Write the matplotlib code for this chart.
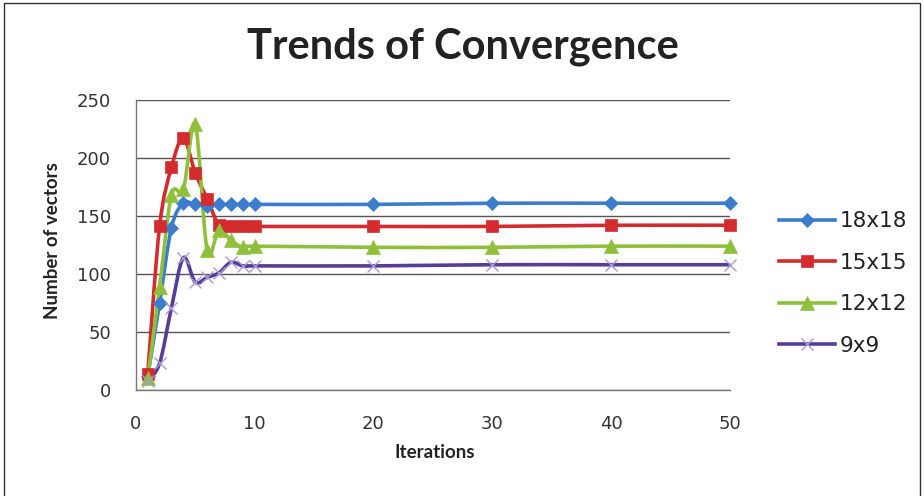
import matplotlib
matplotlib.use("Agg")
import matplotlib.pyplot as plt
import numpy as np
from matplotlib.path import Path
from matplotlib.patches import PathPatch, Rectangle
from matplotlib.lines import Line2D

# iterations and number of vectors for each block size
iterations = [1, 2, 3, 4, 5, 6, 7, 8, 9, 10, 20, 30, 40, 50]
v18 = [12, 75, 140, 161, 160, 159, 160, 160, 160, 160, 160, 161, 161, 161]
v15 = [14, 141, 192, 217, 187, 165, 142, 141, 141, 141, 141, 141, 142, 142]
v12 = [10, 89, 168, 173, 229, 121, 138, 129, 123, 124, 123, 123, 124, 124]
v9 = [8, 23, 71, 114, 93, 97, 101, 110, 107, 107, 107, 108, 108, 108]

labels = ["18x18", "15x15", "12x12", "9x9"]
series = [v18, v15, v12, v9]
colors = ["#3b7dcc", "#d42b2f", "#8fc03c", "#583c98"]
marker_colors = ["#3b7dcc", "#d42b2f", "#8fc03c", "#a89ad6"]
markers = ["D", "s", "^", "x"]
msizes = [7.5, 9, 9.5, 9]

x_ticks = [0, 10, 20, 30, 40, 50]
y_ticks = [0, 50, 100, 150, 200, 250]


def smooth_path(x, y):
    # Catmull-Rom style bezier segments through every data point
    pts = np.column_stack([x, y]).astype(float)
    n = len(pts)
    verts = [pts[0]]
    codes = [Path.MOVETO]
    for i in range(n - 1):
        p0 = pts[i - 1] if i > 0 else pts[i]
        p1, p2 = pts[i], pts[i + 1]
        p3 = pts[i + 2] if i + 2 < n else pts[i + 1]
        c1 = p1 + (p2 - p0) / 6.0
        c2 = p2 - (p3 - p1) / 6.0
        verts += [c1, c2, p2]
        codes += [Path.CURVE4] * 3
    return Path(verts, codes)


fig = plt.figure(figsize=(9.24, 4.96), dpi=100)
ax = fig.add_axes([0.147, 0.2137, 0.643, 0.5847])

ax.set_xlim(0, 50)
ax.set_ylim(0, 250)

for vals, c, mc, m, ms in zip(series, colors, marker_colors, markers, msizes):
    patch = PathPatch(smooth_path(iterations, vals), facecolor="none",
                      edgecolor=c, lw=2.6, zorder=3, clip_on=False)
    ax.add_patch(patch)
    mew = 1.0 if m == "x" else 0.5
    ax.plot(iterations, vals, linestyle="none", marker=m, markersize=ms,
            color=mc, markeredgecolor=mc, markeredgewidth=mew, zorder=4,
            clip_on=False)

ax.set_xticks(x_ticks)
ax.set_yticks(y_ticks)
ax.tick_params(length=0, labelsize=13, colors="#333333", pad=18)
ax.yaxis.grid(True, color="#555555", lw=1.0)
ax.set_axisbelow(True)
for side in ["top", "right"]:
    ax.spines[side].set_visible(False)
for side in ["left", "bottom"]:
    ax.spines[side].set_color("#777777")
    ax.spines[side].set_linewidth(1.0)

fig.text(0.4708, 0.0867, "Iterations", ha="center", va="center",
         fontsize=13.5, fontweight="bold", family="Lato", color="#222222")
fig.text(0.0563, 0.516, "Number of vectors", ha="center", va="center",
         rotation=90, fontsize=13.5, fontweight="bold", family="Lato",
         color="#222222")

fig.text(0.501, 0.905, "Trends of Convergence", ha="center", va="center",
         fontsize=30, fontweight="bold", family="Lato", color="#222222")

handles = [Line2D([0], [0], color=c, lw=2.6, marker=m, markersize=ms,
                  markerfacecolor=mc, markeredgecolor=mc,
                  markeredgewidth=1.0 if m == "x" else 0.5)
           for c, mc, m, ms in zip(colors, marker_colors, markers, msizes)]
fig.legend(handles, labels, loc="center left", bbox_to_anchor=(0.843, 0.428),
           frameon=False, fontsize=15.5, handlelength=2.6, handletextpad=0.2,
           labelspacing=1.0, borderpad=0, borderaxespad=0,
           labelcolor="#222222")

# outer chart frame
fig.patches.append(Rectangle((0.004, -0.02), 0.992, 1.014, transform=fig.transFigure,
                             fill=False, edgecolor="#333333", lw=1.0))

fig.savefig("out.png", dpi=100)
